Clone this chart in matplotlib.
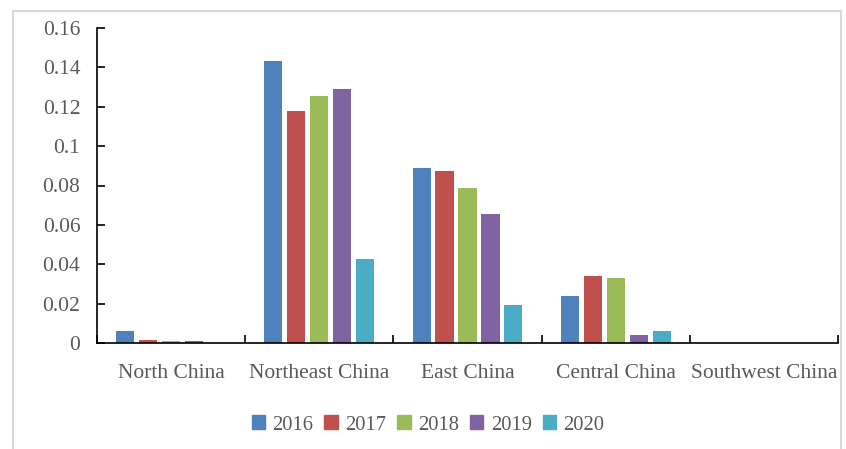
import matplotlib
matplotlib.use('Agg')
import matplotlib.pyplot as plt
import matplotlib.patches as mpatches
import numpy as np

plt.rcParams['font.family'] = ['Liberation Serif', 'DejaVu Serif']

regions = ['North China', 'Northeast China', 'East China', 'Central China', 'Southwest China']
years = ['2016', '2017', '2018', '2019', '2020']
vals_2016 = [0.0062, 0.1430, 0.0889, 0.0239, 0.0]
vals_2017 = [0.0015, 0.1180, 0.0872, 0.0341, 0.0]
vals_2018 = [0.0008, 0.1255, 0.0787, 0.0328, 0.0]
vals_2019 = [0.0010, 0.1290, 0.0655, 0.0040, 0.0]
vals_2020 = [0.0, 0.0428, 0.0195, 0.0062, 0.0]
series = [vals_2016, vals_2017, vals_2018, vals_2019, vals_2020]
colors = ['#4F81BD', '#C0504D', '#9BBB59', '#8064A2', '#4BACC6']

W, H = 846, 449
fig = plt.figure(figsize=(W / 100, H / 100), dpi=100)
ax = fig.add_axes([97 / W, 1 - 343 / H, (838 - 97) / W, (343 - 28) / H])

x = np.arange(len(regions)) + 0.5
bar_w = 0.122
step = 0.155
for j, (vals, c) in enumerate(zip(series, colors)):
    ax.bar(x + (j - 2) * step, vals, width=bar_w, color=c, label=years[j])

ax.set_xlim(0, len(regions))
ax.set_ylim(0, 0.16)
ax.set_yticks(np.arange(0, 0.161, 0.02))
ax.set_yticklabels([f'{v:g}' for v in np.round(np.arange(0, 0.161, 0.02), 2)])

# category labels centred, tick marks on the boundaries
ax.set_xticks(np.arange(len(regions) + 1))
ax.set_xticklabels([])
ax.set_xticks(x, minor=True)
ax.set_xticklabels(regions, minor=True)
ax.tick_params(axis='x', which='major', direction='in', length=6, width=1.2, color='black')
ax.tick_params(axis='x', which='minor', length=0, pad=15, labelsize=15.5, labelcolor='#595959')
ax.tick_params(axis='y', direction='in', length=6, width=1.2, pad=12, labelsize=15.5, labelcolor='#595959')

for s in ['top', 'right']:
    ax.spines[s].set_visible(False)
for s in ['left', 'bottom']:
    ax.spines[s].set_linewidth(1.2)
    ax.spines[s].set_color('black')

handles = [mpatches.Patch(color=c, label=y) for c, y in zip(colors, years)]
leg = fig.legend(handles=handles, loc='center', bbox_to_anchor=(428 / W, 1 - 425 / H), ncol=5,
                 frameon=False, fontsize=14.8, handlelength=0.65, handleheight=0.65,
                 handletextpad=0.35, columnspacing=0.55)
for t in leg.get_texts():
    t.set_color('#595959')

# light outer frame
fig.add_artist(mpatches.Rectangle((13 / W, -0.05), (841 - 13) / W, 1.05 - 11 / H,
                                  transform=fig.transFigure, fill=False,
                                  edgecolor='#d9d9d9', linewidth=1.5))

fig.savefig('out.png', dpi=100)
